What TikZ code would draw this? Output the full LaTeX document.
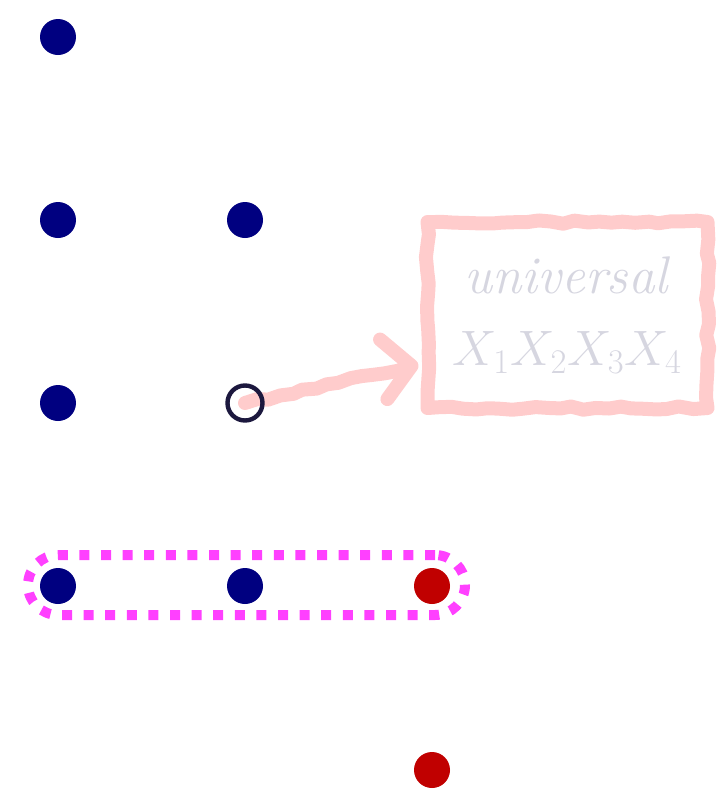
\documentclass[tikz,border=0pt]{standalone}
\usetikzlibrary{arrows.meta,decorations.pathmorphing,calc}
\definecolor{dotblue}{RGB}{0,0,128}
\definecolor{dotred}{RGB}{192,0,0}
\definecolor{ringcol}{RGB}{28,24,62}
\definecolor{pinkline}{RGB}{255,204,204}
\definecolor{greytext}{RGB}{214,214,224}
\definecolor{magentadash}{RGB}{255,64,255}
\tikzset{
  dotb/.style={circle,fill=dotblue,inner sep=0pt,minimum size=18pt},
  dotr/.style={circle,fill=dotred,inner sep=0pt,minimum size=18pt},
  ring/.style={circle,draw=ringcol,line width=2.2pt,inner sep=0pt,minimum size=17.5pt},
  rough/.style={decorate,decoration={random steps,segment length=6pt,amplitude=0.9pt}},
  pinkbox/.style={draw=pinkline,line width=7pt,line join=round,rough,
    minimum width=140pt,minimum height=93pt,inner sep=0pt,
    text=greytext,align=center,font=\fontsize{26.5}{37}\selectfont},
  grpbox/.style={draw=magentadash,line width=5pt,dash pattern=on 5pt off 5.8pt,
    rounded corners=15pt,minimum width=218.5pt,minimum height=30pt,inner sep=0pt}
}
\begin{document}
\begin{tikzpicture}[x=0.5pt,y=-0.5pt]
\pgfmathsetseed{3}
\useasboundingbox (0,0) rectangle (726,799);
\node[dotb] (a1) at (58,37) {};
\node[dotb] (b1) at (58,220) {};
\node[dotb] (b2) at (245,220) {};
\node[dotb] (c1) at (58,403) {};
\coordinate (oc) at (245,403);
\node[dotb] (d1) at (58,586) {};
\node[dotb] (d2) at (245,586) {};
\node[dotr] (d3) at (432,586) {};
\node[dotr] (e3) at (432,770) {};
\node[grpbox] (grp) at (246.5,585) {};
\node[pinkbox] (box) at (567.5,315) {\textit{universal}\\[-1pt]$X_1X_2X_3X_4$};
\draw[draw=pinkline,line width=7pt,line cap=round,line join=round,rough,
  -{Straight Barb[length=14pt,width=30pt,line cap=round,line join=round]}]
  (oc) -- ($(box.south west)!0.25!(box.north west)+(-1pt,0)$);
\node[ring] (o) at (oc) {};
\end{tikzpicture}
\end{document}
